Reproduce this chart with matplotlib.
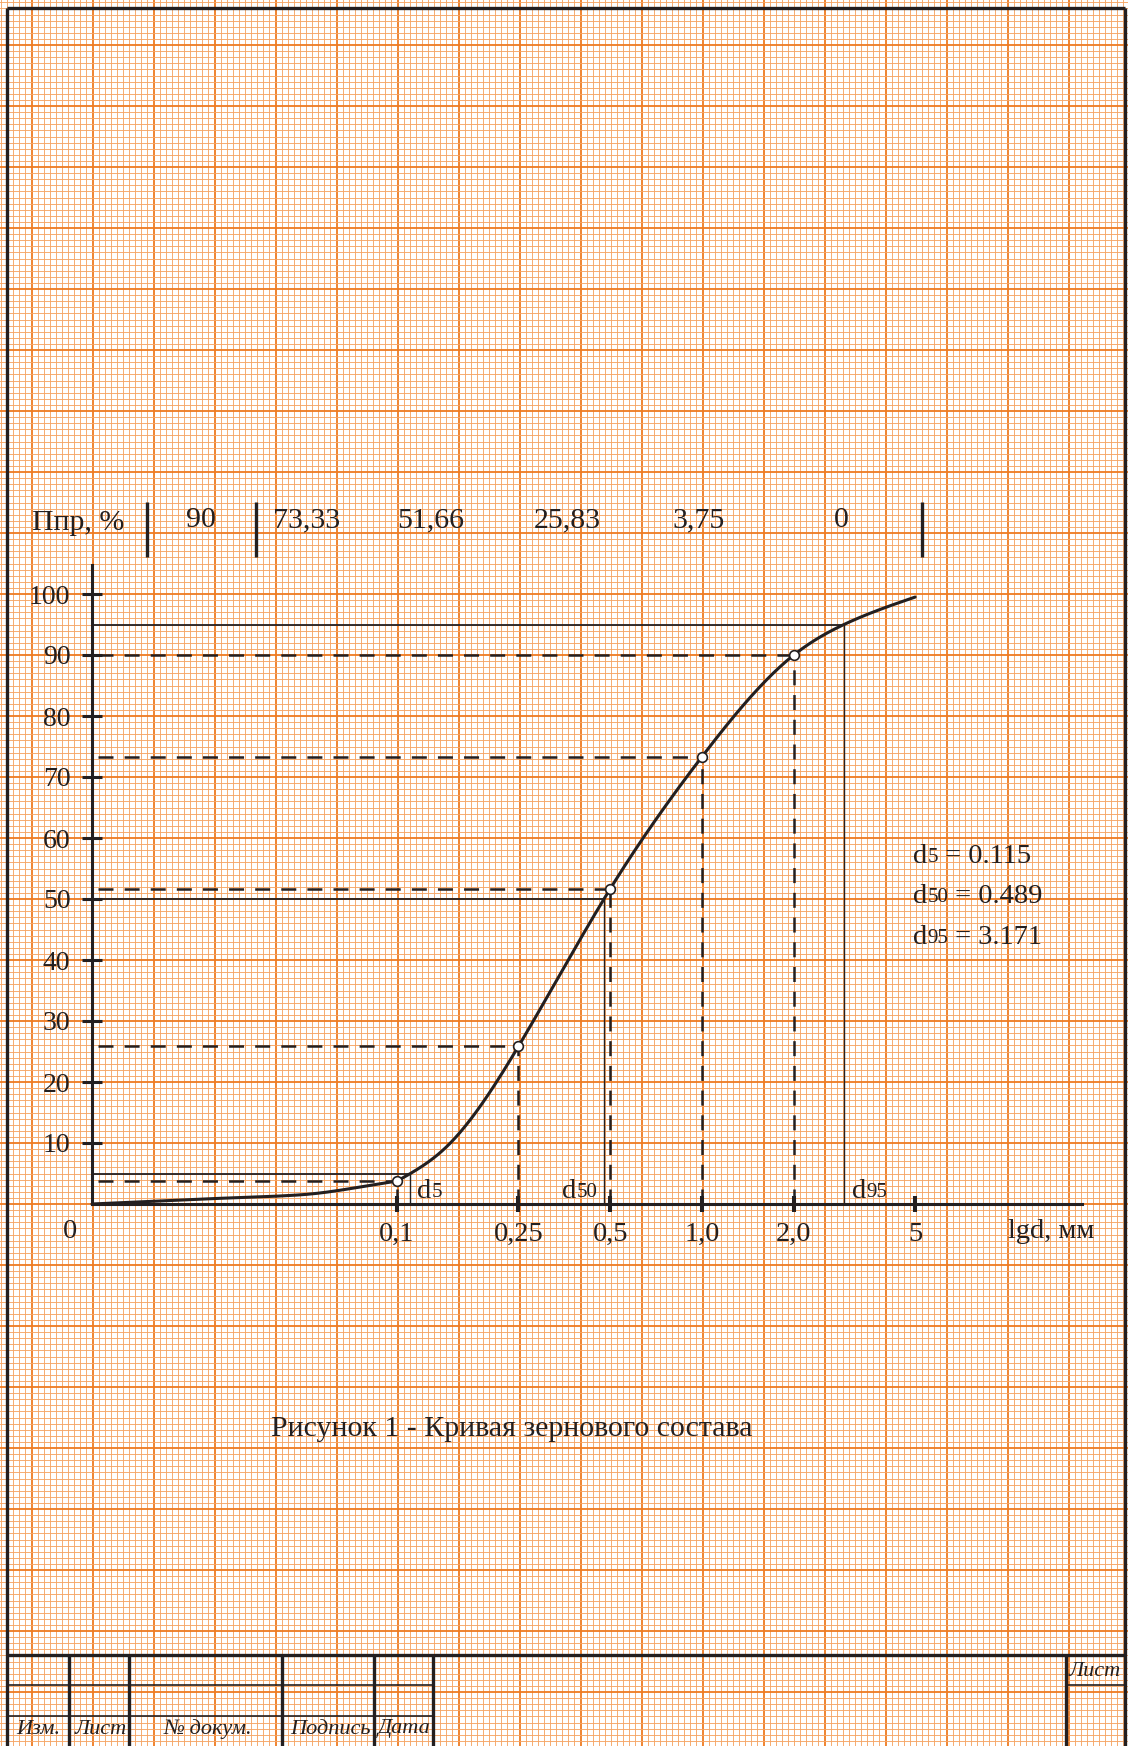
import numpy as np
import matplotlib.pyplot as plt

plt.rcParams['font.family'] = ['Liberation Serif', 'DejaVu Serif']
plt.rcParams['lines.scale_dashes'] = False
INK = '#231F20'
plt.rcParams['text.color'] = INK

# Sieve sizes (mm) and percent passing, as marked on the curve
sieve_d = [0.1, 0.25, 0.5, 1.0, 2.0]
passing = [3.75, 25.83, 51.66, 73.33, 90.0]

# points: flat tail up to 0.1 mm, then the main branch
tail_d = [0.01, 0.0226, 0.0481, 0.1]
tail_p = [0.0, 0.8, 1.5, 3.75]
curve_d = [0.1, 0.1455, 0.25, 0.5, 1.0, 2.0, 2.92, 5.0]
curve_p = [3.75, 9.4, 25.83, 51.66, 73.33, 90.0, 95.0, 99.5]

tick_d = [0.1, 0.25, 0.5, 1.0, 2.0, 5.0]
tick_labels = ['0,1', '0,25', '0,5', '1,0', '2,0', '5']
y_ticks = [10, 20, 30, 40, 50, 60, 70, 80, 90, 100]

table_values = ['90', '73,33', '51,66', '25,83', '3,75', '0']
d_levels = [5, 50, 95]
d_names = ['5', '50', '95']
d_results = ['0.115', '0.489', '3.171']

# page geometry (pixels): graph paper 6.1 px per mm
W, H = 1128, 1746
MM = 6.1
X0, Y0 = 92, 1204        # origin of the chart on the sheet
DEC = 50 * MM            # one decade of d = 50 mm


def pchip(x, y, xn):
    x = np.asarray(x, float)
    y = np.asarray(y, float)
    h = np.diff(x)
    m = np.diff(y) / h
    d = np.zeros_like(y)
    for k in range(1, len(x) - 1):
        if m[k - 1] * m[k] > 0:
            w1 = 2 * h[k] + h[k - 1]
            w2 = h[k] + 2 * h[k - 1]
            d[k] = (w1 + w2) / (w1 / m[k - 1] + w2 / m[k])
    d[0] = m[0]
    d[-1] = m[-1]
    i = np.clip(np.searchsorted(x, xn) - 1, 0, len(h) - 1)
    t = (xn - x[i]) / h[i]
    h00 = 2 * t**3 - 3 * t**2 + 1
    h10 = t**3 - 2 * t**2 + t
    h01 = -2 * t**3 + 3 * t**2
    h11 = t**3 - t**2
    return h00 * y[i] + h10 * h[i] * d[i] + h01 * y[i + 1] + h11 * h[i] * d[i + 1]


def natural_spline(x, y, xn):
    x = np.asarray(x, float)
    y = np.asarray(y, float)
    n = len(x)
    h = np.diff(x)
    A = np.zeros((n, n))
    b = np.zeros(n)
    A[0, 0] = A[-1, -1] = 1
    for i in range(1, n - 1):
        A[i, i - 1] = h[i - 1]
        A[i, i] = 2 * (h[i - 1] + h[i])
        A[i, i + 1] = h[i]
        b[i] = 6 * ((y[i + 1] - y[i]) / h[i] - (y[i] - y[i - 1]) / h[i - 1])
    M = np.linalg.solve(A, b)
    i = np.clip(np.searchsorted(x, xn) - 1, 0, n - 2)
    a = x[i + 1] - xn
    c = xn - x[i]
    hi = h[i]
    return (M[i] * a**3 / (6 * hi) + M[i + 1] * c**3 / (6 * hi)
            + (y[i] / hi - M[i] * hi / 6) * a + (y[i + 1] / hi - M[i + 1] * hi / 6) * c)


fig = plt.figure(figsize=(W / 100, H / 100), dpi=100)

# ---- sheet: graph paper, frame, title block ----
bg = fig.add_axes([0, 0, 1, 1], label='sheet')
bg.set_xlim(0, W)
bg.set_ylim(H, 0)
bg.axis('off')

for n in range(-15, 171):
    x = X0 + 0.5 + MM * n
    major = n % 10 == 0
    bg.axvline(x, color='#EE7B21' if major else '#F5A565',
               lw=1.3 if major else 0.72, alpha=1 if major else 0.9, zorder=0)
for n in range(-198, 90):
    y = Y0 + MM * n
    major = n % 10 == 0
    bg.axhline(y, color='#EE7B21' if major else '#F5A565',
               lw=1.3 if major else 0.72, alpha=1 if major else 0.9, zorder=0)

frame = dict(color=INK, lw=2.4, solid_capstyle='butt', zorder=3)
bg.plot([7, 7], [8, H], **frame)
bg.plot([7, 1125], [8, 8], **frame)
bg.plot([1125, 1125], [8, H], **frame)
bg.plot([7, 1125], [1655, 1655], **frame)
for x in [69, 129, 282, 374, 433, 1066]:
    bg.plot([x, x], [1655, H], **frame)
thin = dict(color=INK, lw=1.2, zorder=3)
bg.plot([7, 433], [1685, 1685], **thin)
bg.plot([7, 433], [1716, 1716], **thin)
bg.plot([1066, 1125], [1685, 1685], **thin)
for s, x in zip(['Изм.', 'Лист', '№ докум.', 'Подпись', 'Дата'], [38, 101, 208, 330, 404]):
    bg.text(x, 1729, s, fontsize=16, style='italic', ha='center', va='center')
bg.text(1095, 1671, 'Лист', fontsize=16, style='italic', ha='center', va='center')

# table of passing percentages above the chart
bg.text(32, 530, 'Ппр, %', fontsize=21.5, ha='left', va='baseline')
for s, x in zip(table_values, [201, 307, 431, 567, 699, 841]):
    bg.text(x, 527, s, fontsize=21.5, ha='center', va='baseline')
for x in [147, 256, 922]:
    bg.plot([x, x], [502, 557], color=INK, lw=2.4, solid_capstyle='butt')

bg.text(1008, 1232, 'lgd, мм', fontsize=20.5, ha='left', va='center')
bg.text(512, 1436, 'Рисунок 1 - Кривая зернового состава', fontsize=21.5,
        ha='center', va='baseline')

# results block
for name, val, yb in zip(d_names, d_results, [863, 903, 944]):
    t = bg.text(913, yb, 'd', fontsize=20.5, va='baseline', ha='left')
    s = bg.annotate(name, xy=(1, 0), xycoords=t, xytext=(0, 1.3),
                    textcoords='offset points', fontsize=15, va='bottom', ha='left')
    bg.annotate(' = ' + val, xy=(1, 0), xycoords=s, xytext=(0, -1.3),
                textcoords='offset points', fontsize=20.5, va='bottom', ha='left')

# ---- chart ----
ax = fig.add_axes([0, 0, 1, 1], label='chart')
ax.patch.set_visible(False)
ax.set_xscale('log')
ax.set_xlim(10 ** (-2 - X0 / DEC), 10 ** (-2 + (W - X0) / DEC))
ax.set_ylim(-(H - Y0) / MM, Y0 / MM)
for side in ['top', 'right']:
    ax.spines[side].set_visible(False)
ax.spines['left'].set_position(('data', 0.01))
ax.spines['bottom'].set_position(('data', 0))
ax.spines['left'].set_bounds(0, 104.75)
ax.spines['bottom'].set_bounds(0.01, 10 ** (-2 + (1082 - X0) / DEC))
for side in ['left', 'bottom']:
    ax.spines[side].set_linewidth(2.2)
    ax.spines[side].set_color(INK)

ax.set_yticks(y_ticks)
ax.set_yticklabels([str(v) for v in y_ticks])
ax.set_xticks(tick_d)
ax.set_xticklabels(tick_labels)
ax.minorticks_off()
ax.tick_params(axis='y', direction='inout', length=15, width=2.2, pad=8,
               labelsize=20, color=INK, labelcolor=INK)
ax.tick_params(axis='x', direction='inout', length=11, width=2.9, pad=7.5,
               labelsize=20.5, color=INK, labelcolor=INK)
ax.annotate('0', xy=(0.01, 0), xytext=(-16, -20), textcoords='offset points',
            fontsize=20.5, ha='center', va='center')

lt = np.log10(tail_d)
xt = np.linspace(lt[0], lt[-1], 150)
yt = pchip(lt, tail_p, xt)
lc = np.log10(curve_d)
xc = np.linspace(lc[0], lc[-1], 600)
yc = natural_spline(lc, curve_p, xc)
xs = np.concatenate([xt, xc[1:]])
ys = np.concatenate([yt, yc[1:]])
ax.plot(10 ** xs, ys, color=INK, lw=2.2, zorder=5,
        solid_capstyle='round', solid_joinstyle='round')

# construction lines to the marked points
for d, p in zip(sieve_d, passing):
    ax.plot([0.0105, d], [p, p], color=INK, lw=1.8, dashes=(10.8, 8.0), zorder=4)
    ax.plot([d, d], [0, p], color=INK, lw=1.8, dashes=(10.8, 7.0), zorder=4)
ax.plot(sieve_d, passing, 'o', ms=7, mfc='white', mec=INK, mew=1.2, zorder=6)

# d5, d50, d95
for lev, name, off in zip(d_levels, d_names, [(5, 4.3), (-30, 4.3), (6, 4.3)]):
    dx = 10 ** np.interp(lev, yc, xc)
    ax.plot([0.01, dx], [lev, lev], color=INK, lw=1.3, zorder=4)
    ax.plot([dx, dx], [0, lev], color=INK, lw=1.0, zorder=4)
    t = ax.annotate('d', xy=(dx, 0), xytext=off, textcoords='offset points',
                    fontsize=20.5, va='baseline', ha='left')
    ax.annotate(name, xy=(1, 0), xycoords=t, xytext=(0, 1.3),
                textcoords='offset points', fontsize=15, va='bottom', ha='left')

fig.savefig('out.png', dpi=100)
